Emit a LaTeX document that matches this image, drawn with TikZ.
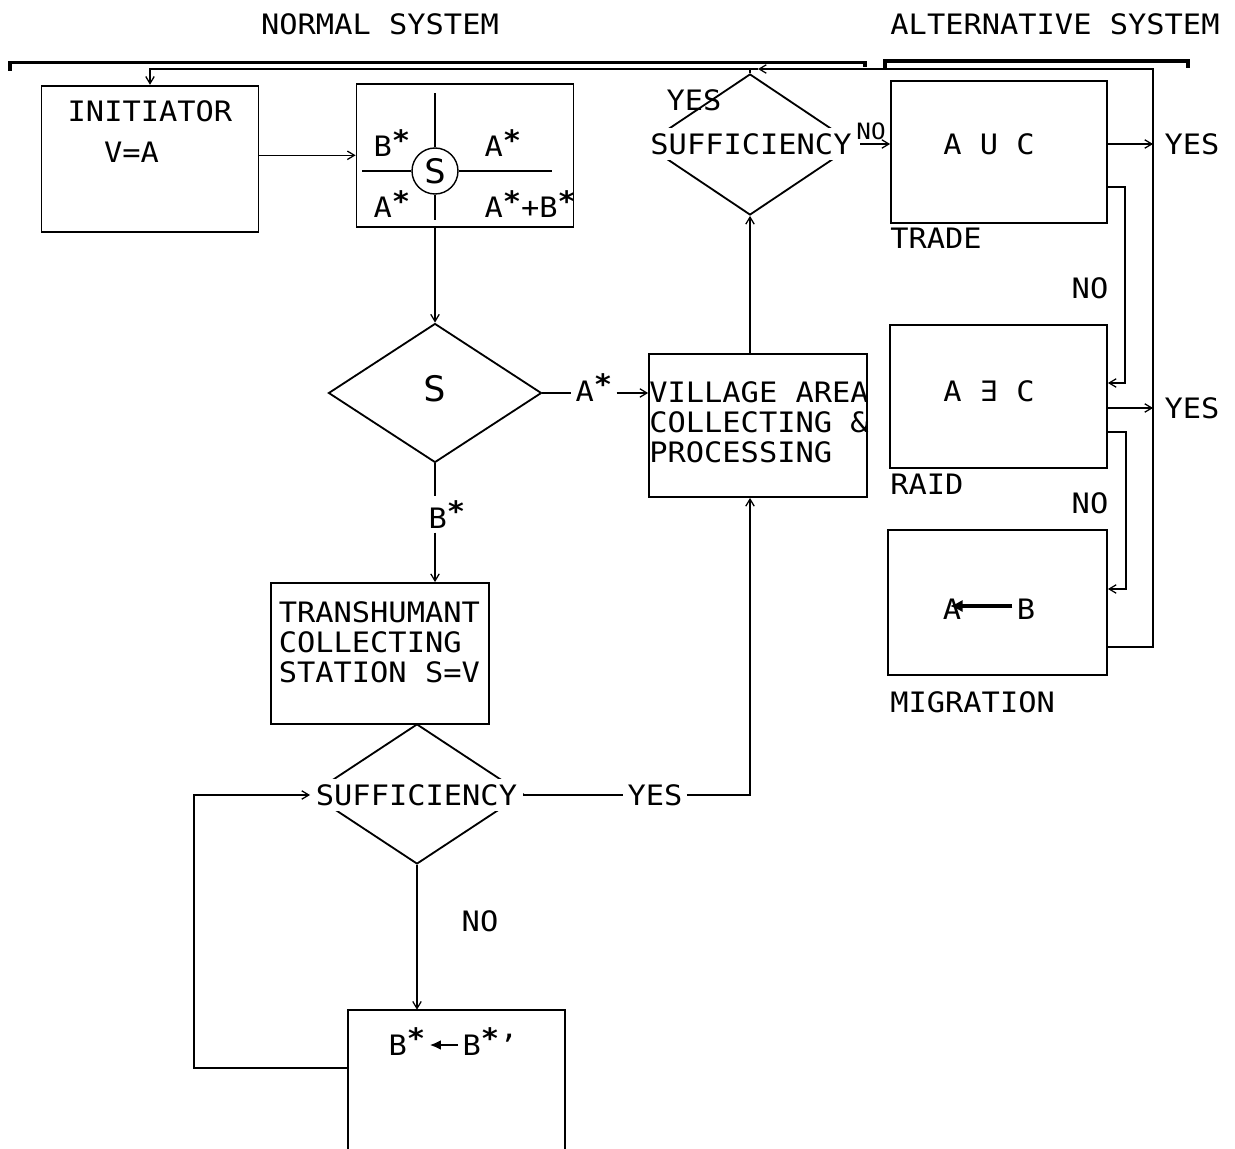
\documentclass[tikz,border=0pt]{standalone}
\usepackage{fontspec}
\newfontfamily\plotfont{DejaVu Sans Mono}[FakeStretch=1.08]
\usetikzlibrary{arrows.meta,shapes.geometric}
\newcommand{\px}{0.025cm}
\newcommand{\astk}{\raisebox{0.22em}{\bfseries *}}

\begin{document}
\begin{tikzpicture}[x=0.025cm,y=-0.025cm,
    font=\plotfont\fontsize{20}{21.3}\selectfont,
    box/.style 2 args={draw,line width=1.3pt,inner sep=0pt,minimum width=#1*\px,minimum height=#2*\px},
    dia/.style 2 args={draw,diamond,line width=1.3pt,inner sep=0pt,minimum width=#1*\px,minimum height=#2*\px},
    arr/.style={-{Straight Barb[length=5pt,width=6pt]},line width=0.9pt},
    wire/.style={line width=0.9pt},
    lbl/.style={inner sep=3pt},
    bracket/.style={line width=2.2pt}]
  \useasboundingbox (0,0) rectangle (1235,1149);

  % headings and brackets
  \node[lbl] (normal) at (380,24) {NORMAL SYSTEM};
  \node[lbl] (alt) at (1055,24) {ALTERNATIVE SYSTEM};
  \draw[bracket] (10,71) -- (10,62.5) -- (865,62.5) -- (865,67);
  \draw[bracket] (885,68) -- (885,61) -- (1188,61) -- (1188,68);

  % normal system
  \node[box={217}{146}] (init) at (150,158.7) {};
  \node[lbl] (initt) at (150,111) {INITIATOR};
  \node[lbl] (inits) at (131.5,152) {V=A};

  \node[box={217}{143}] (switch) at (465,155.3) {};
  \node[draw,circle,line width=1pt,inner sep=0pt,minimum size=46*\px,
        font=\plotfont\fontsize{24}{24}\selectfont] (sw) at (435,171) {S};
  \draw[wire] (sw.north) -- (435,93);
  \draw[wire] (sw.south) -- (435,220);
  \draw[wire] (sw.west) -- (362,171);
  \draw[wire] (sw.east) -- (552,171);
  \node[lbl,anchor=base west] (swb) at (369,157) {B\astk};
  \node[lbl,anchor=base west] (swa) at (480,157) {A\astk};
  \node[lbl,anchor=base west] (swc) at (369,218) {A\astk};
  \node[lbl,anchor=base west] (swd) at (480,218) {A\astk+B\astk};

  \node[dia={213}{139}] (sdia) at (435,393) {};
  \node[lbl,font=\plotfont\fontsize{25}{25}\selectfont] (sdiat) at (435,389) {S};
  \node[lbl,anchor=base west] (astar) at (571,401) {A\astk};
  \node[lbl,anchor=base west] (bstar) at (424,528) {B\astk};

  \node[box={218}{143}] (village) at (758,425.5) {};
  \node[anchor=west,align=left,inner sep=0pt] (villt) at (649,422.5)
    {VILLAGE AREA\\COLLECTING \&\\PROCESSING};

  \node[dia={210}{141}] (suf1) at (750,144.5) {};
  \node[fill=white,inner xsep=6pt,inner ysep=4pt] (suf1t) at (751,144) {SUFFICIENCY};
  \node[lbl] (yes1) at (694,100) {YES};
  \node[inner sep=1pt,font=\plotfont\fontsize{16}{16}\selectfont] (no0) at (871,131) {NO};

  \node[box={218}{141}] (trans) at (379.6,653.5) {};
  \node[anchor=west,align=left,inner sep=0pt] (transt) at (278.5,642.5)
    {TRANSHUMANT\\COLLECTING\\STATION S=V};

  \node[dia={212}{140}] (suf2) at (417,794) {};
  \node[fill=white,inner xsep=4pt,inner ysep=4pt] (suf2t) at (416.5,795) {SUFFICIENCY};
  \node[lbl] (yes2) at (655,795) {YES};
  \node[lbl] (no3) at (480,921) {NO};

  \node[minimum width=217*\px,minimum height=139*\px,inner sep=0pt] (mut) at (456.5,1079.5) {};
  \draw[line width=1.3pt] (mut.south west) -- (mut.north west) -- (mut.north east) -- (mut.south east);
  \node[lbl,anchor=base west] (mb1) at (384,1055) {B\astk};
  \node[lbl,anchor=base west] (mb2) at (458,1055) {B\astk’};
  \coordinate (lp) at (194,1068);

  % alternative system
  \node[box={216}{142}] (trade) at (999,152) {};
  \node[lbl] (tradet) at (989,144) {A U C};
  \node[anchor=west,inner sep=0pt] (tradel) at (890,238) {TRADE};

  \node[box={217}{143}] (raid) at (998.5,396.5) {};
  \node[lbl] (raidt) at (989,391) {A ∃ C};
  \node[anchor=west,inner sep=0pt] (raidl) at (890,484) {RAID};

  \node[box={219}{145}] (migr) at (997.5,602.5) {};
  \node[lbl] (ma) at (952,609) {A};
  \node[lbl] (mb) at (1026,609) {B};
  \node[anchor=west,inner sep=0pt] (migrl) at (890,702) {MIGRATION};

  \node[lbl] (yes3) at (1192,144) {YES};
  \node[lbl] (yes4) at (1192,408) {YES};
  \node[lbl] (no1) at (1090,288) {NO};
  \node[lbl] (no2) at (1090,503) {NO};
  \coordinate (rtop) at (1153,69);
  \coordinate (rbot) at (1153,647);
  \coordinate (fbtip) at (758,69);

  % connectors
  \draw[arr] (init.east |- switch.west) -- (switch.west);
  \draw[arr] (sw |- switch.south) -- (sdia.north);
  \draw[wire] (sdia.east) -- (sdia.east -| astar.west);
  \draw[arr] (astar.east |- sdia.east) -- (sdia.east -| village.west);
  \draw[wire] (sdia.south) -- (sdia.south |- bstar.north);
  \draw[arr] (sdia.south |- bstar.south) -- (sdia.south |- trans.north);
  \draw[wire] (suf2t.east) -- (yes2.west);
  \draw[arr] (yes2.east) -| (suf1 |- village.south);
  \draw[arr] (suf1 |- village.north) -- (suf1.south);
  \draw[arr] (suf1t.east) -- (suf1t.east -| trade.west);
  \draw[arr] (suf2.south) -- (suf2.south |- mut.north);
  \draw[arr] (lp -| mut.west) -- (lp) |- (suf2t.west);
  \draw[line width=1.8pt,-{Latex[length=8pt,width=7pt]}] (mb2.west |- 0,1045) -- (mb1.east |- 0,1045);
  \draw[line width=2.6pt,-{Latex[length=9pt,width=9pt]}] (mb.west) ++(0,-3) -- (950,606);

  \draw[arr] (trade.east |- yes3) -- (rtop |- yes3);
  \draw[arr] (raid.east |- yes4) -- (rtop |- yes4);
  \draw[arr] (trade.east |- 0,187) -| (1125,383) -- (raid.east |- 0,383);
  \draw[arr] (raid.east |- 0,432) -| (1126,589) -- (migr.east |- 0,589);
  \draw[arr] (migr.east |- rbot) -- (rbot) -- (rtop) -- (fbtip);
  \draw[arr] (fbtip) -| (init.north);
  \draw[wire] (suf1.north) -- (suf1.north |- rtop);
\end{tikzpicture}
\end{document}
